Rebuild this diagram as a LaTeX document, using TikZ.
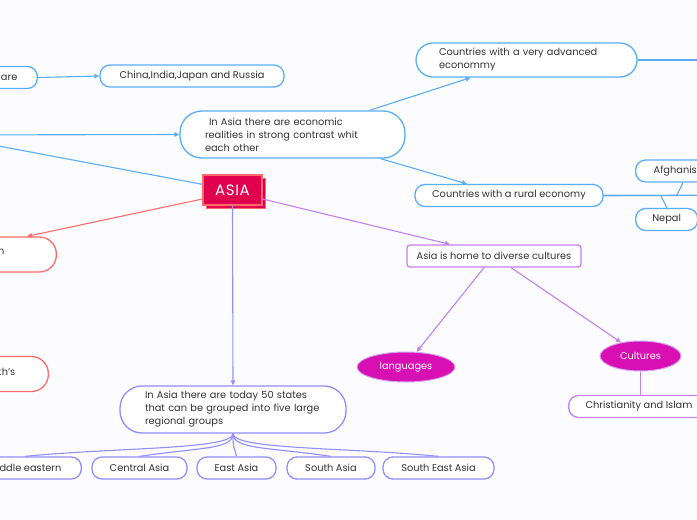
\documentclass[tikz,border=0pt]{standalone}
\usepackage{fontspec}
\setmainfont{Poppins}
\usetikzlibrary{arrows.meta, shapes.geometric, shadows}
\definecolor{asia-blue}{HTML}{5AAEF8}
\definecolor{asia-red}{HTML}{FF6B6B}
\definecolor{asia-crimson}{HTML}{E0004D}
\definecolor{asia-violet}{HTML}{918EFF}
\definecolor{asia-purple}{HTML}{C47FF0}
\definecolor{asia-magenta}{HTML}{D80FB3}
\definecolor{asia-ink}{HTML}{333333}

\tikzset{
  topic/.style={draw, line width=1.3pt, fill=white, rounded corners=10pt,
    minimum height=22pt, text=asia-ink, font=\fontsize{9.8}{13}\selectfont},
  bigtopic/.style={topic, rounded corners=22pt, minimum height=47pt, align=left},
  bubble/.style={ellipse, draw=asia-purple!70, line width=1pt, fill=asia-magenta,
    text=white, minimum height=30pt, font=\fontsize{9.8}{13}\selectfont},
  link/.style={line width=1.1pt, -{Triangle[length=5pt,width=4.5pt]}},
  plain link/.style={line width=1.1pt},
}

\begin{document}
\begin{tikzpicture}[x=1pt, y=-1pt]
  \clip (0,0) rectangle (697,520);
  \fill[white!99!blue] (0,0) rectangle (697,520);

  \coordinate (west) at (-60,135);
  \coordinate (east-adv) at (760,60);
  \coordinate (east-rural) at (760,195);

  \node[topic, draw=asia-blue, anchor=east, text width=80pt, align=right, inner xsep=20pt]
    (are) at (38,77.5) {are};
  \node[topic, draw=asia-blue, minimum width=184pt] (china) at (192,76) {China,India,Japan and Russia};
  \node[bigtopic, draw=asia-blue, text width=175pt, inner xsep=25pt] (econ) at (292.5,134.5)
    {\hspace{4pt}In Asia there are economic\\realities in strong contrast whit\\each other};
  \node[bigtopic, draw=asia-blue, minimum height=34pt, rounded corners=17pt, text width=175pt,
    inner xsep=23pt] (adv) at (526.5,60) {Countries with a very advanced\\econommy};
  \node[topic, draw=asia-blue, minimum width=188pt] (rural) at (509,195.5) {Countries with a rural economy};
  \node[topic, draw=asia-blue, anchor=west, inner xsep=18pt] (afgh) at (635,171) {Afghanistan};
  \node[topic, draw=asia-blue, anchor=west, minimum width=62pt] (nepal) at (635,219.5) {Nepal};

  \node[draw=asia-red, line width=1.3pt, fill=asia-crimson, text=white, minimum width=59pt,
    minimum height=30pt, font=\fontsize{15}{15}\selectfont\addfontfeatures{LetterSpace=4},
    copy shadow={shadow xshift=3.5pt, shadow yshift=-3.5pt}] (asia) at (232.5,190) {ASIA};

  \node[topic, draw=asia-red, anchor=east, rounded corners=17pt, minimum height=35pt,
    text width=100pt, align=right, inner xsep=52pt] (red-a) at (57,254.5) {\raisebox{5pt}{n}};
  \node[topic, draw=asia-red, anchor=east, rounded corners=17pt, minimum height=35pt,
    text width=100pt, align=right, inner xsep=33pt] (red-b) at (49,374) {\raisebox{5pt}{th's}};

  \node[bigtopic, draw=asia-violet, text width=176pt, inner xsep=25pt] (today) at (233,409.5)
    {In Asia there are today 50 states\\that can be grouped into five large\\regional groups};
  \node[topic, draw=asia-violet, anchor=east, inner xsep=20pt] (middle) at (82,468) {Middle eastern};
  \node[topic, draw=asia-violet, minimum width=95pt] (central) at (139.5,468) {Central Asia};
  \node[topic, draw=asia-violet, minimum width=79pt] (eastasia) at (236.5,468) {East Asia};
  \node[topic, draw=asia-violet, minimum width=88pt] (southasia) at (331,468) {South Asia};
  \node[topic, draw=asia-violet, minimum width=111pt] (sea) at (438.5,468) {South East Asia};

  \node[topic, draw=asia-purple, rounded corners=3pt, minimum width=174pt] (cult) at (494,256)
    {Asia is home to diverse cultures};
  \node[bubble, minimum width=98pt] (lang) at (406,367) {languages};
  \node[bubble, minimum width=81pt] (cultures) at (640.5,356) {Cultures};
  \node[topic, draw=asia-purple, anchor=west, inner xsep=17pt] (christ) at (568,406.5)
    {Christianity and Islam};

  \begin{scope}[asia-blue]
    \draw[link] (are.east) -- (china.west);
    \draw[link] (west) -- (econ.west);
    \draw[plain link] (asia) -- (west);
    \draw[link] ([xshift=77pt]econ.north) -- ([xshift=-56pt]adv.south);
    \draw[link] ([xshift=88pt]econ.south) -- ([xshift=-42pt]rural.north);
    \draw[plain link] (adv.east) -- (east-adv);
    \draw[plain link] (rural.east) -- (east-rural);
    \draw[plain link] (rural.east) -- ++(73,0) -- ([xshift=48pt]afgh.south west);
    \draw[plain link] (rural.east) -- ++(57,0) -- ([xshift=32pt]nepal.north west);
  \end{scope}

  \draw[link, asia-red] ([yshift=-9pt]asia.west) -- ([xshift=-30pt]red-a.north east);

  \draw[link, asia-violet] (asia.south) -- (today.north);
  \foreach \r/\d in {middle/90, central/60, eastasia/-2, southasia/-60, sea/-90}
    \draw[plain link, asia-violet] (today.south) .. controls +(0,16) and +(\d,-9) .. (\r.north);

  \begin{scope}[asia-purple]
    \draw[link] ([yshift=-9pt]asia.east) -- ([xshift=-44pt]cult.north);
    \draw[link] ([xshift=-10pt]cult.south) -- (lang.55);
    \draw[link] ([xshift=17pt]cult.south) -- (cultures.145);
    \draw[plain link] (cultures.south) -- (cultures.south |- christ.north);
  \end{scope}
\end{tikzpicture}
\end{document}
